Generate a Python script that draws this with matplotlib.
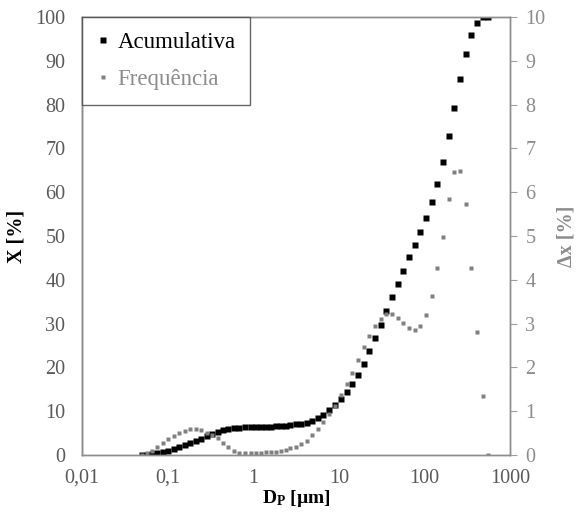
import numpy as np
import matplotlib
matplotlib.use('Agg')
import matplotlib.pyplot as plt
from matplotlib.ticker import FixedLocator, FixedFormatter, NullLocator

plt.rcParams['font.family'] = 'Liberation Serif'
plt.rcParams['mathtext.fontset'] = 'custom'
plt.rcParams['mathtext.rm'] = 'Liberation Serif'
plt.rcParams['mathtext.bf'] = 'Liberation Serif:bold'

# particle diameters [um]
diam = [0.0506, 0.0579, 0.0663, 0.0758, 0.0884, 0.1024, 0.1188, 0.1377, 0.1597, 0.1851,
        0.2147, 0.2489, 0.2886, 0.3328, 0.3848, 0.4437, 0.5118, 0.5967, 0.6918, 0.802,
        0.935, 1.087, 1.233, 1.411, 1.614, 1.846, 2.112, 2.416, 2.727, 3.12,
        3.617, 4.195, 4.863, 5.64, 6.59, 7.68, 9.03, 10.6, 12.37, 14.27,
        16.76, 19.54, 22.72, 26.48, 30.7, 35.6, 41.8, 48.8, 56.7, 66.1,
        76.6, 88.8, 103.6, 121.0, 141.5, 165.0, 191.2, 222.9, 260.5, 303.8,
        350.3, 409.5, 477.3, 557.8]

# cumulative [%]
acum = [0.0, 0.1, 0.25, 0.45, 0.65, 1.0, 1.4, 1.8, 2.25, 2.7,
        3.2, 3.7, 4.3, 4.8, 5.25, 5.6, 5.9, 6.1, 6.2, 6.3,
        6.35, 6.4, 6.4, 6.45, 6.5, 6.55, 6.6, 6.65, 6.8, 7.0,
        7.15, 7.4, 7.8, 8.4, 9.2, 10.3, 11.4, 12.8, 14.3, 16.2,
        18.3, 20.8, 23.7, 26.6, 29.7, 32.8, 36.1, 39.1, 42.1, 45.1,
        48.0, 50.9, 54.1, 57.8, 61.9, 66.9, 72.8, 79.3, 85.8, 91.6,
        95.8, 98.6, 100, 100]

# frequency [%]
freq = [0.01, 0.04, 0.1, 0.18, 0.27, 0.36, 0.44, 0.5, 0.55, 0.59,
        0.59, 0.56, 0.51, 0.46, 0.38, 0.28, 0.18, 0.1, 0.05, 0.04,
        0.04, 0.05, 0.05, 0.06, 0.07, 0.08, 0.09, 0.11, 0.15, 0.18,
        0.25, 0.33, 0.45, 0.6, 0.75, 0.93, 1.13, 1.37, 1.61, 1.88,
        2.17, 2.46, 2.72, 2.95, 3.1, 3.21, 3.21, 3.12, 3.01, 2.91,
        2.85, 2.94, 3.2, 3.64, 4.26, 4.98, 5.84, 6.45, 6.48, 5.74,
        4.28, 2.8, 1.35, 0.0]

xticks = [0.01, 0.1, 1, 10, 100, 1000]
xlabels = ['0,01', '0,1', '1', '10', '100', '1000']

fig = plt.figure(figsize=(5.77, 5.13), dpi=100)
ax = fig.add_axes([0.142, 0.113, 0.742, 0.854])
ax2 = ax.twinx()

l1, = ax.plot(diam, acum, 's', color='black', ms=3.8, mec='none', label='Acumulativa')
l2, = ax2.plot(diam, freq, 's', color='#808080', ms=2.7, mec='none', label='Frequência')

ax.set_xscale('log')
ax.set_xlim(0.01, 1000)
ax.set_ylim(0, 100)
ax2.set_ylim(0, 10)
ax.xaxis.set_major_locator(FixedLocator(xticks))
ax.xaxis.set_major_formatter(FixedFormatter(xlabels))
ax.xaxis.set_minor_locator(NullLocator())
ax.set_yticks(np.arange(0, 101, 10))
ax2.set_yticks(np.arange(0, 11, 1))

ax.tick_params(axis='x', length=0, pad=10, labelsize=14.5, labelcolor='#595959')
ax.tick_params(axis='y', length=0, pad=12, labelsize=14.5, labelcolor='#595959')
ax2.tick_params(axis='y', length=5, width=0.8, color='#a0a0a0', pad=6,
                labelsize=14.5, labelcolor='#8c8c8c')

for a in (ax, ax2):
    for s in a.spines.values():
        s.set_color('#8c8c8c')
        s.set_linewidth(1.0)
ax.spines['left'].set_color('#404040')

ax.set_xlabel(r'$\mathbf{D_P}$ [µm]', fontsize=14, fontweight='bold', labelpad=0)
ax.set_ylabel('X [%]', fontsize=14.5, fontweight='bold', labelpad=6)
ax2.set_ylabel('Δx [%]', fontsize=14.5, fontweight='bold', color='#8c8c8c', labelpad=8)

leg = ax2.legend([l1, l2], ['Acumulativa', 'Frequência'], loc='upper left',
                 bbox_to_anchor=(0, 1), fontsize=16.5, frameon=True, fancybox=False,
                 handlelength=0.5, handletextpad=0.4, borderpad=0.65,
                 labelspacing=0.7, borderaxespad=0, markerscale=1.0)
leg.get_frame().set_edgecolor('#404040')
leg.get_frame().set_linewidth(1.0)
leg.get_texts()[1].set_color('#8c8c8c')

fig.savefig('out.png', dpi=100)
